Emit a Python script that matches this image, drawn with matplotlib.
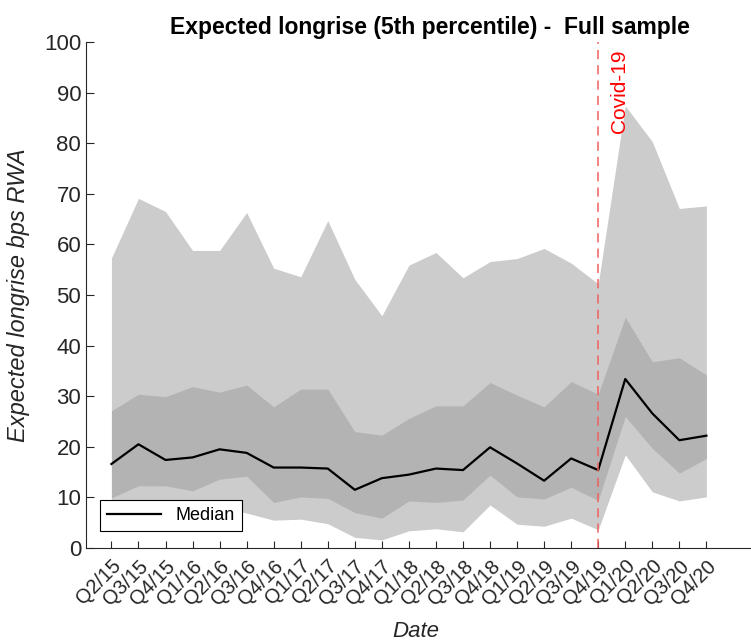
import matplotlib
matplotlib.use("Agg")
import matplotlib.pyplot as plt
import numpy as np

quarters = ["Q2/15", "Q3/15", "Q4/15", "Q1/16", "Q2/16", "Q3/16", "Q4/16", "Q1/17",
            "Q2/17", "Q3/17", "Q4/17", "Q1/18", "Q2/18", "Q3/18", "Q4/18", "Q1/19",
            "Q2/19", "Q3/19", "Q4/19", "Q1/20", "Q2/20", "Q3/20", "Q4/20"]

outer_upper = [57.3, 69.1, 66.5, 58.8, 58.8, 66.3, 55.3, 53.6, 64.7, 53.1, 45.9, 55.9,
               58.4, 53.4, 56.6, 57.2, 59.2, 56.3, 52.2, 87.4, 80.3, 67.1, 67.6]
inner_upper = [27.1, 30.4, 29.9, 31.9, 30.8, 32.2, 27.9, 31.4, 31.4, 23.0, 22.3, 25.6,
               28.1, 28.1, 32.7, 30.2, 27.9, 32.9, 30.4, 45.6, 36.8, 37.6, 34.2]
median = [16.6, 20.5, 17.4, 17.9, 19.5, 18.8, 15.9, 15.9, 15.7, 11.5, 13.8, 14.5,
          15.7, 15.4, 19.9, 16.7, 13.3, 17.7, 15.4, 33.4, 26.6, 21.3, 22.2]
inner_lower = [9.9, 12.3, 12.3, 11.3, 13.6, 14.2, 9.0, 10.1, 9.8, 7.0, 5.9, 9.3,
               9.0, 9.5, 14.4, 10.1, 9.7, 12.0, 9.4, 26.0, 19.7, 14.8, 17.7]
outer_lower = [7.0, 8.0, 8.0, 7.5, 8.0, 6.9, 5.5, 5.7, 4.8, 2.1, 1.6, 3.4,
               3.8, 3.2, 8.5, 4.7, 4.3, 5.9, 3.6, 18.4, 11.1, 9.3, 10.1]
covid_quarter = "Q4/19"

plt.rcParams['font.family'] = ['Liberation Sans', 'DejaVu Sans']

W, H = 751, 643
fig = plt.figure(figsize=(W / 100, H / 100), dpi=100)
ax = fig.add_axes([86 / W, (H - 548) / H, (774 - 86) / W, (548 - 42) / H])

x = np.arange(len(quarters))
ax.fill_between(x, outer_lower, outer_upper, color='#cccccc', linewidth=0)
ax.fill_between(x, inner_lower, inner_upper, color='#b3b3b3', linewidth=0)
ax.plot(x, median, color='black', lw=1.6, label='Median')

cx = quarters.index(covid_quarter)
ax.axvline(cx, color='#f06060', lw=1.1, dashes=(6, 4))
ax.text(cx + 0.8, 98.5, 'Covid-19', color='red', rotation=90, ha='center', va='top', fontsize=15)

ax.set_xlim(-0.94, 24.5)
ax.set_ylim(0, 100)
ax.set_yticks(np.arange(0, 101, 10))
ax.set_xticks(x)
ax.set_xticklabels(quarters, rotation=45, ha='right', rotation_mode='anchor', fontsize=14.5)
ax.tick_params(axis='both', direction='in', colors='#262626', labelcolor='#262626', width=0.8)
ax.tick_params(axis='y', labelsize=16, length=6)
ax.tick_params(axis='x', length=5, pad=6)
for s in ['top', 'right']:
    ax.spines[s].set_visible(False)
for s in ['left', 'bottom']:
    ax.spines[s].set_color('#262626')
    ax.spines[s].set_linewidth(0.8)

ax.set_ylabel('Expected longrise bps RWA', fontsize=17, style='italic', color='#262626')
ax.yaxis.set_label_coords((30 - 86) / 688, 0.5)
ax.set_xlabel('Date', fontsize=16, style='italic', color='#262626')
ax.xaxis.set_label_coords((416 - 86) / 688, (548 - 621) / 506)
ax.set_title('Expected longrise (5th percentile) -  Full sample', fontsize=16.5, fontweight='bold', pad=6)

leg = ax.legend(loc='lower left', bbox_to_anchor=(0.02, 0.033), borderaxespad=0, fancybox=False,
                edgecolor='black', fontsize=13, handlelength=3, framealpha=1)
leg.get_frame().set_linewidth(0.8)

fig.savefig('out.png', dpi=100)
